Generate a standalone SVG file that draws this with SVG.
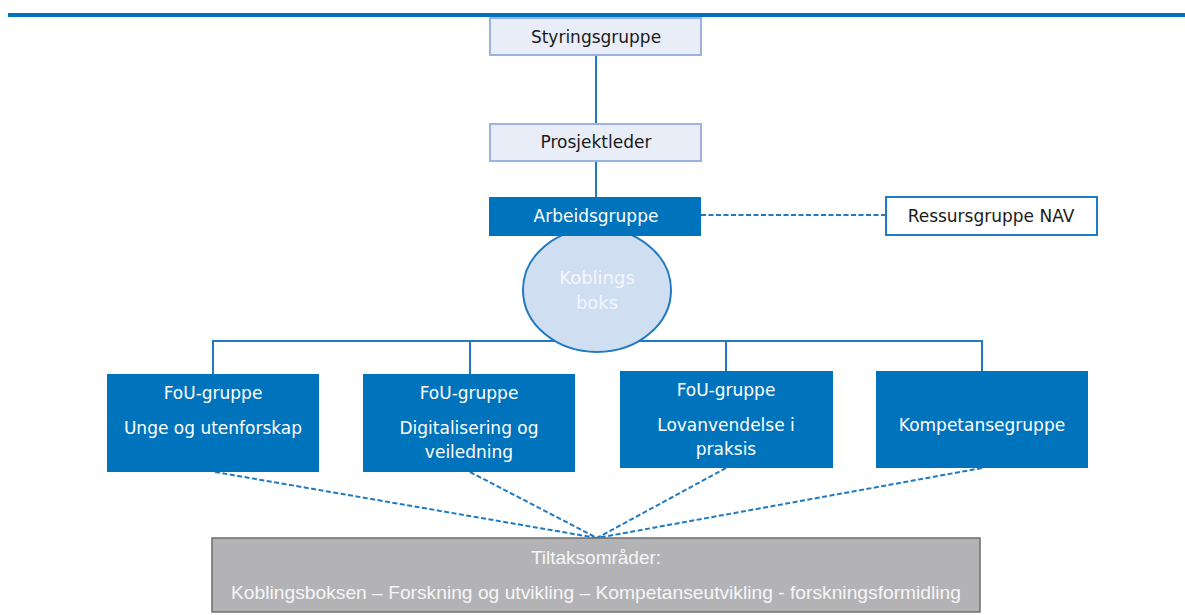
<svg xmlns="http://www.w3.org/2000/svg" width="1185" height="615" viewBox="0 0 1185 615">
<style>
text{font-family:"DejaVu Sans","Liberation Sans",sans-serif;font-size:17px;text-anchor:middle}
.light{fill:#e9edf8;stroke:#9ab3e0;stroke-width:2}
.blue{fill:#0073bd}
.dark{fill:#1a1a1a}
.wt{fill:#ffffff}
.solid{fill:none;stroke:#1f7ac2;stroke-width:2}
.dash{fill:none;stroke:#1f7ac2;stroke-width:2;stroke-dasharray:5 2.5}
.gt{fill:#f6f6f6;font-family:"Liberation Sans",sans-serif;font-size:19px}
</style>
<rect x="8" y="13" width="1177" height="4" fill="#0073bd"/>
<g id="connectors">
<line class="solid" x1="596" y1="56" x2="596" y2="123"/>
<line class="solid" x1="596" y1="161" x2="596" y2="197"/>
<line class="dash" x1="701" y1="215" x2="886" y2="215"/>
<polyline class="solid" points="213,374 213,341 982,341 982,371"/>
<line class="solid" x1="470" y1="341" x2="470" y2="374"/>
<line class="solid" x1="726" y1="341" x2="726" y2="371"/>
<line class="dash" x1="215" y1="472" x2="597" y2="538"/>
<line class="dash" x1="470" y1="472" x2="597" y2="538"/>
<line class="dash" x1="726" y1="468" x2="597" y2="538"/>
<line class="dash" x1="982" y1="468" x2="597" y2="538"/>
</g>
<g id="koblingsboks">
<ellipse cx="597" cy="290" rx="74" ry="62" fill="#d0def2" stroke="#1f7ac2" stroke-width="2"/>
<text x="597" y="284" fill="#f4f6fb" style="font-size:18px">Koblings</text>
<text x="597" y="309" fill="#f4f6fb" style="font-size:18px">boks</text>
</g>
<g id="styringsgruppe">
<rect class="light" x="490" y="18" width="211" height="37"/>
<text class="dark" x="596" y="43">Styringsgruppe</text>
</g>
<g id="prosjektleder">
<rect class="light" x="490" y="124" width="211" height="37"/>
<text class="dark" x="596" y="148">Prosjektleder</text>
</g>
<g id="arbeidsgruppe">
<rect class="blue" x="489" y="197" width="212" height="39"/>
<text class="wt" x="596" y="222">Arbeidsgruppe</text>
</g>
<g id="ressursgruppe">
<rect x="886" y="197" width="211" height="38" fill="#ffffff" stroke="#1f7ac2" stroke-width="2"/>
<text class="dark" x="991" y="222">Ressursgruppe NAV</text>
</g>
<g id="fou-unge">
<rect class="blue" x="107" y="374" width="212" height="98"/>
<text class="wt" x="213" y="399">FoU-gruppe</text>
<text class="wt" x="213" y="434">Unge og utenforskap</text>
</g>
<g id="fou-digital">
<rect class="blue" x="363" y="374" width="212" height="98"/>
<text class="wt" x="469" y="399">FoU-gruppe</text>
<text class="wt" x="469" y="434">Digitalisering og</text>
<text class="wt" x="469" y="458">veiledning</text>
</g>
<g id="fou-lov">
<rect class="blue" x="620" y="371" width="213" height="97"/>
<text class="wt" x="726" y="396">FoU-gruppe</text>
<text class="wt" x="726" y="431">Lovanvendelse i</text>
<text class="wt" x="726" y="455">praksis</text>
</g>
<g id="kompetansegruppe">
<rect class="blue" x="876" y="371" width="212" height="97"/>
<text class="wt" x="982" y="431">Kompetansegruppe</text>
</g>
<g id="tiltaksomrader">
<rect x="212" y="538" width="768" height="74" fill="#b3b3b5" stroke="#6e6e6e" stroke-width="1.5"/>
<text class="gt" x="596" y="564">Tiltaksområder:</text>
<text class="gt" x="596" y="599" textLength="730" lengthAdjust="spacingAndGlyphs">Koblingsboksen – Forskning og utvikling – Kompetanseutvikling - forskningsformidling</text>
</g>
</svg>
